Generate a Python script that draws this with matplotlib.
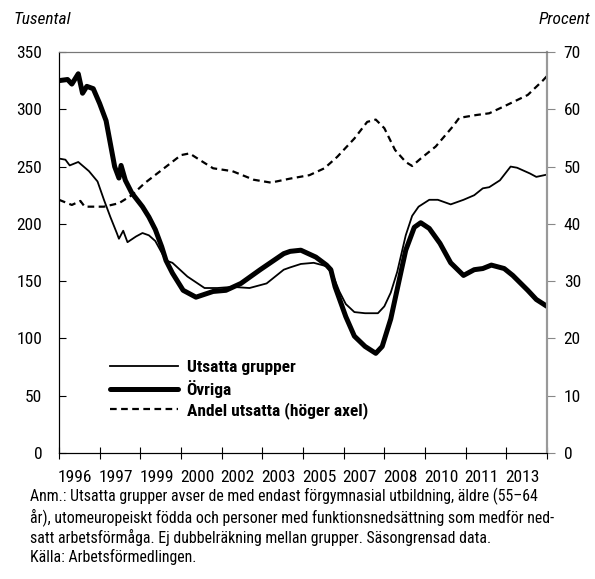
import matplotlib
matplotlib.use("Agg")
import matplotlib.pyplot as plt
from matplotlib import font_manager
import numpy as np

# data, monthly dates
ovriga_dates = ["1996-01", "1996-05", "1996-07", "1996-10", "1996-12", "1997-02", "1997-05",
                "1997-08", "1997-11", "1998-01", "1998-03", "1998-05", "1998-06", "1998-08",
                "1998-11", "1999-04", "1999-07", "1999-10", "2000-01", "2000-03", "2000-06",
                "2000-11", "2001-05", "2002-01", "2002-07", "2003-02", "2003-11", "2004-10",
                "2005-01", "2005-06", "2006-01", "2006-06", "2006-08", "2006-10", "2007-03",
                "2007-07", "2007-12", "2008-05", "2008-08", "2008-12", "2009-05", "2009-07",
                "2009-11", "2010-02", "2010-06", "2010-11", "2011-04", "2011-10", "2012-03",
                "2012-07", "2012-11", "2013-05", "2013-09", "2014-04", "2014-08", "2015-01"]
ovriga = [325, 326, 322, 331, 314, 320, 318, 305, 290, 270, 250, 240, 251, 238,
          227, 215, 206, 195, 180, 168, 157, 142, 136, 141, 142, 148, 160, 174,
          176, 177, 171, 164, 160, 145, 119, 102, 93, 87, 93, 117, 160, 177,
          197, 201, 196, 183, 166, 155, 160, 161, 164, 161, 155, 142, 134, 128]

utsatta_dates = ["1996-01", "1996-04", "1996-06", "1996-10", "1997-03", "1997-07", "1997-10",
                 "1998-01", "1998-04", "1998-05", "1998-07", "1998-09", "1999-01", "1999-04",
                 "1999-07", "1999-10", "2000-03", "2000-06", "2001-01", "2001-09", "2002-03",
                 "2002-10", "2003-06", "2004-02", "2004-10", "2005-01", "2005-06", "2005-12",
                 "2006-06", "2006-09", "2006-12", "2007-03", "2007-07", "2007-12", "2008-06",
                 "2008-09", "2008-12", "2009-03", "2009-07", "2009-10", "2010-01", "2010-06",
                 "2010-10", "2011-04", "2011-10", "2012-03", "2012-07", "2012-10", "2013-03",
                 "2013-08", "2013-11", "2014-05", "2014-08", "2015-01"]
utsatta = [257, 256, 251, 254, 246, 237, 221, 206, 192, 187, 194, 184, 189, 192,
           190, 185, 168, 166, 154, 144, 144, 145, 144, 148, 160, 162, 165, 166,
           163, 155, 141, 130, 123, 122, 122, 128, 140, 158, 190, 207, 215, 221,
           221, 217, 221, 225, 231, 232, 238, 250, 249, 244, 241, 243]

andel_dates = ["1996-01", "1996-07", "1996-11", "1997-01", "1997-10", "1998-05", "1998-11",
               "1999-05", "2000-01", "2000-10", "2001-02", "2001-07", "2002-01", "2002-10",
               "2003-08", "2004-04", "2005-01", "2005-10", "2006-05", "2006-11", "2007-07",
               "2008-01", "2008-05", "2008-09", "2009-02", "2009-07", "2009-10", "2010-02",
               "2010-09", "2011-05", "2011-08", "2012-04", "2012-10", "2013-06", "2014-04",
               "2014-11", "2015-01"]
andel = [44.2, 43.3, 44.0, 43.0, 43.0, 43.6, 45.0, 47.1, 49.4, 52.0, 52.3, 51.1, 49.7,
         49.2, 47.7, 47.2, 47.9, 48.5, 49.7, 51.7, 54.9, 57.8, 58.2, 56.7, 52.9, 50.8,
         50.1, 51.4, 53.5, 57.0, 58.5, 59.0, 59.3, 60.7, 62.5, 65.0, 65.8]

tick_labels = ["1996", "1997", "1999", "2000", "2002", "2003", "2005", "2007",
               "2008", "2010", "2011", "2013"]

note = ("Anm.: Utsatta grupper avser de med endast förgymnasial utbildning, äldre (55–64\n"
        "år), utomeuropeiskt födda och personer med funktionsnedsättning som medför ned-\n"
        "satt arbetsförmåga. Ej dubbelräkning mellan grupper. Säsongrensad data.\n"
        "Källa: Arbetsförmedlingen.")


def to_month(s):
    y, m = s.split("-")
    return (int(y) - 1996) * 12 + int(m) - 1


# pick a narrow font if there is one
names = {f.name for f in font_manager.fontManager.ttflist}
stretch = "normal"
if "Liberation Sans Narrow" in names:
    fam = "Liberation Sans Narrow"
elif "Roboto Condensed" in names:
    fam = "Roboto Condensed"
else:
    fam = "DejaVu Sans"
    stretch = "condensed"
plt.rcParams["font.family"] = [fam, "DejaVu Sans"]
plt.rcParams["font.stretch"] = stretch
fs = 12.5

fig = plt.figure(figsize=(5.95, 5.79), dpi=100)
ax = fig.add_axes([59 / 595, 1 - 453 / 579, 488 / 595, 401 / 579])
ax2 = ax.twinx()

x_ov = [to_month(d) for d in ovriga_dates]
x_ut = [to_month(d) for d in utsatta_dates]
x_an = [to_month(d) for d in andel_dates]

l1, = ax.plot(x_ut, utsatta, color="black", lw=1.3, label="Utsatta grupper")
l2, = ax.plot(x_ov, ovriga, color="black", lw=3.6, solid_capstyle="round", label="Övriga")
l3, = ax2.plot(x_an, andel, color="black", lw=1.6, linestyle=(0, (3, 2)),
               label="Andel utsatta (höger axel)")

step = 19
ax.set_xlim(0, 228)
ax.set_ylim(0, 350)
ax2.set_ylim(0, 70)
ax.set_yticks(np.arange(0, 351, 50))
ax2.set_yticks(np.arange(0, 71, 10))

ax.set_xticks(np.arange(0, 229, step))
ax.set_xticklabels([])
ax.set_xticks(np.arange(len(tick_labels)) * step + 7.5, minor=True)
ax.set_xticklabels(tick_labels, minor=True)
ax.tick_params(axis="x", which="major", direction="inout", length=8, width=0.8, color="black")
ax.tick_params(axis="x", which="minor", length=0, pad=12, labelsize=fs)
ax.tick_params(axis="y", direction="in", length=5, width=0.8, pad=12, labelsize=fs)
ax2.tick_params(axis="y", direction="out", length=6, width=0.8, color="#888888",
                pad=6, labelsize=fs)

for a in (ax, ax2):
    a.spines["top"].set_color("#777777")
    a.spines["right"].set_color("#999999")
    a.spines["left"].set_color("black")
    a.spines["bottom"].set_color("black")
    a.spines["right"].set_linewidth(1.5)

ax2.legend(handles=[l1, l2, l3], loc="lower left", bbox_to_anchor=(0.105, 0.085),
           frameon=False, prop={"weight": "bold", "size": fs}, handlelength=3.9,
           handletextpad=0.5, labelspacing=0.25, borderpad=0, borderaxespad=0)

fig.text(13 / 595, 1 - 20 / 579, "Tusental", style="italic", fontsize=fs, va="center", ha="left")
fig.text(590 / 595, 1 - 20 / 579, "Procent", style="italic", fontsize=fs, va="center", ha="right")
fig.text(30 / 595, 1 - 488 / 579, note, fontsize=11.4, va="top", ha="left", linespacing=1.22)

fig.savefig("out.png", dpi=100)
